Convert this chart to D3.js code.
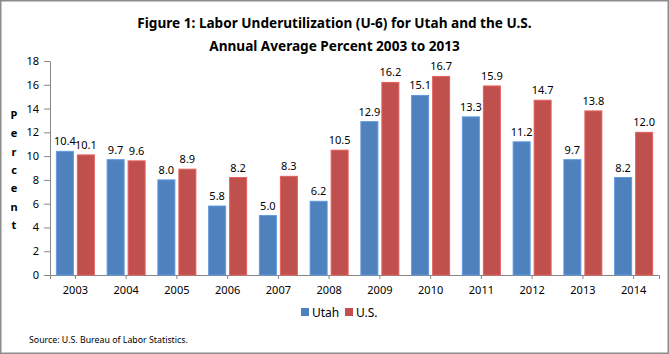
<!DOCTYPE html>
<html>
<head>
<meta charset="utf-8">
<script src="https://cdn.jsdelivr.net/npm/d3@7"></script>
<style>
    body { margin: 0; background: #fff; }
    svg { display: block; font-family: 'Noto Sans', 'DejaVu Sans', sans-serif; }
</style>
</head>
<body>
<svg id="chart" width="669" height="354"></svg>
<script>
// Данные графика
const years = ['2003', '2004', '2005', '2006', '2007', '2008', '2009', '2010', '2011', '2012', '2013', '2014']
const series = ['Utah', 'U.S.']
const utah = [10.4, 9.7, 8.0, 5.8, 5.0, 6.2, 12.9, 15.1, 13.3, 11.2, 9.7, 8.2]
const us = [10.1, 9.6, 8.9, 8.2, 8.3, 10.5, 16.2, 16.7, 15.9, 14.7, 13.8, 12.0]
const yTicks = [0, 2, 4, 6, 8, 10, 12, 14, 16, 18]
const titleLines = [
    'Figure 1: Labor Underutilization (U-6) for Utah and the U.S.',
    'Annual Average Percent 2003 to 2013',
]
const colors = { Utah: '#4F81BD', 'U.S.': '#C0504D' }

const svg = d3.select('#chart'),
    width = +svg.attr('width'),
    height = +svg.attr('height')

const margin = { top: 61, right: 10, bottom: 79, left: 50 }

// Рамка вокруг всей диаграммы
svg.append('rect')
    .attr('x', 0.75).attr('y', 0.75)
    .attr('width', width - 1.5).attr('height', height - 1.5)
    .attr('fill', '#fff')
    .attr('stroke', '#8c8c8c')
    .attr('stroke-width', 1.5)

// Заголовок
svg.append('g')
    .selectAll('text')
    .data(titleLines)
    .join('text')
    .attr('x', 334.5)
    .attr('y', (d, i) => 28 + i * 23)
    .attr('text-anchor', 'middle')
    .attr('font-size', 13.6)
    .attr('font-weight', 'bold')
    .attr('fill', '#000')
    .text(d => d)

const x = d3.scaleBand()
    .domain(years)
    .range([margin.left, width - margin.right])

const groupW = 38
const xSeries = d3.scaleBand()
    .domain(series)
    .range([(x.bandwidth() - groupW) / 2, (x.bandwidth() + groupW) / 2])
    .paddingInner(4 / 21)

const y = d3.scaleLinear()
    .domain([0, 18])
    .range([height - margin.bottom, margin.top])

// Ось Y
const yAxis = svg.append('g')
    .attr('transform', `translate(${margin.left},0)`)
    .call(d3.axisLeft(y).tickValues(yTicks).tickSize(6).tickSizeOuter(0).tickPadding(5))
yAxis.select('.domain').attr('stroke', '#868686')
yAxis.selectAll('.tick line').attr('stroke', '#868686')
yAxis.selectAll('.tick text').attr('font-size', 11).attr('fill', '#000')
    .style('font-family', "'Noto Sans', sans-serif")

// Ось X: засечки по центрам категорий
const xAxis = svg.append('g')
    .attr('transform', `translate(0,${y(0)})`)
    .call(d3.axisBottom(x).tickSize(4).tickSizeOuter(4).tickPadding(7))
xAxis.select('.domain').attr('stroke', '#868686')
xAxis.selectAll('.tick line').attr('stroke', '#868686')
xAxis.selectAll('.tick text').attr('font-size', 11).attr('fill', '#000')
    .style('font-family', "'Noto Sans', sans-serif")

// Подпись оси Y буквами по вертикали
svg.append('g')
    .selectAll('text')
    .data('Percent'.split(''))
    .join('text')
    .attr('x', 14)
    .attr('y', (d, i) => 119 + i * 18.3)
    .attr('text-anchor', 'middle')
    .attr('font-size', 11)
    .attr('font-weight', 'bold')
    .text(d => d)

const rows = years.map((yr, i) => ({ year: yr, Utah: utah[i], 'U.S.': us[i] }))

const groups = svg.append('g')
    .selectAll('g')
    .data(rows)
    .join('g')
    .attr('transform', d => `translate(${x(d.year)},0)`)

const bars = groups.selectAll('g')
    .data(d => series.map(s => ({ key: s, value: d[s] })))
    .join('g')

bars.append('rect')
    .attr('x', d => xSeries(d.key))
    .attr('y', d => y(d.value))
    .attr('width', xSeries.bandwidth())
    .attr('height', d => y(0) - y(d.value))
    .attr('fill', d => colors[d.key])
    .attr('stroke', d => d3.color(colors[d.key]).brighter(0.5))
    .attr('stroke-width', 1)

// Подписи значений над столбцами
bars.append('text')
    .attr('x', d => xSeries(d.key) + xSeries.bandwidth() / 2)
    .attr('y', d => y(d.value) - 6)
    .attr('text-anchor', 'middle')
    .attr('font-size', 11)
    .attr('fill', '#000')
    .text(d => d.value.toFixed(1))

// Легенда
const legendX = [301, 345]
const legend = svg.append('g')
    .selectAll('g')
    .data(series)
    .join('g')
    .attr('transform', (d, i) => `translate(${legendX[i]},308)`)
legend.append('rect')
    .attr('width', 8).attr('height', 8)
    .attr('fill', d => colors[d])
legend.append('text')
    .attr('x', 11)
    .attr('y', 8.5)
    .attr('font-size', 12)
    .text(d => d)

// Источник
svg.append('text')
    .attr('x', 29)
    .attr('y', 343)
    .attr('font-size', 8.8)
    .text('Source: U.S. Bureau of Labor Statistics.')
</script>
</body>
</html>
